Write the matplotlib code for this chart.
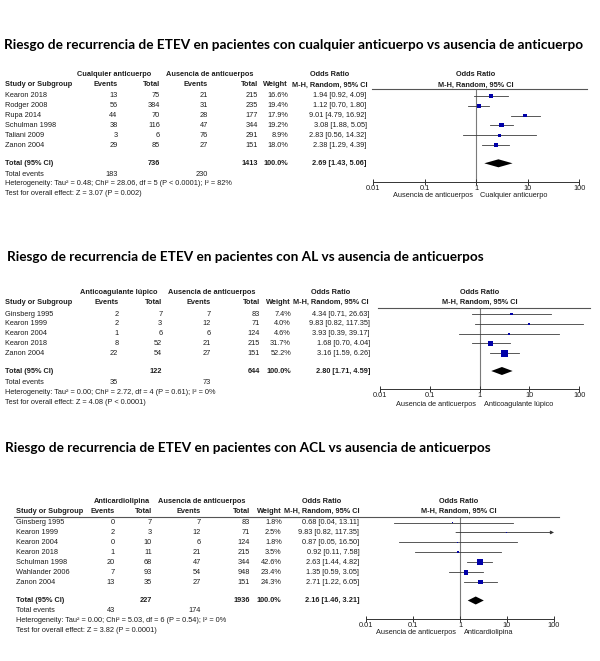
import matplotlib
matplotlib.use('Agg')
import matplotlib.pyplot as plt
from matplotlib.lines import Line2D
from matplotlib.ticker import NullLocator

# ---- panel 1: cualquier anticuerpo
p1_titulo = 'Riesgo de recurrencia de ETEV en pacientes con cualquier anticuerpo vs ausencia de anticuerpo'
p1_grupo = 'Cualquier anticuerpo'
p1_estudios = ['Kearon 2018', 'Rodger 2008', 'Rupa 2014', 'Schulman 1998', 'Taliani 2009', 'Zanon 2004']
p1_ev1 = [13, 56, 44, 38, 3, 29]
p1_tot1 = [75, 384, 70, 116, 6, 85]
p1_ev2 = [21, 31, 28, 47, 76, 27]
p1_tot2 = [215, 235, 177, 344, 291, 151]
p1_peso = [16.6, 19.4, 17.9, 19.2, 8.9, 18.0]
p1_or = [1.94, 1.12, 9.01, 3.08, 2.83, 2.38]
p1_lo = [0.92, 0.70, 4.79, 1.88, 0.56, 1.29]
p1_hi = [4.09, 1.80, 16.92, 5.05, 14.32, 4.39]
p1_total = [736, 1413]
p1_or_total = [2.69, 1.43, 5.06]
p1_eventos = [183, 230]
p1_het = 'Heterogeneity: Tau² = 0.48; Chi² = 28.06, df = 5 (P < 0.0001); I² = 82%'
p1_test = 'Test for overall effect: Z = 3.07 (P = 0.002)'

# ---- panel 2: anticoagulante lupico
p2_titulo = 'Riesgo de recurrencia de ETEV en pacientes con AL vs ausencia de anticuerpos'
p2_grupo = 'Anticoagulante lúpico'
p2_estudios = ['Ginsberg 1995', 'Kearon 1999', 'Kearon 2004', 'Kearon 2018', 'Zanon 2004']
p2_ev1 = [2, 2, 1, 8, 22]
p2_tot1 = [7, 3, 6, 52, 54]
p2_ev2 = [7, 12, 6, 21, 27]
p2_tot2 = [83, 71, 124, 215, 151]
p2_peso = [7.4, 4.0, 4.6, 31.7, 52.2]
p2_or = [4.34, 9.83, 3.93, 1.68, 3.16]
p2_lo = [0.71, 0.82, 0.39, 0.70, 1.59]
p2_hi = [26.63, 117.35, 39.17, 4.04, 6.26]
p2_total = [122, 644]
p2_or_total = [2.80, 1.71, 4.59]
p2_eventos = [35, 73]
p2_het = 'Heterogeneity: Tau² = 0.00; Chi² = 2.72, df = 4 (P = 0.61); I² = 0%'
p2_test = 'Test for overall effect: Z = 4.08 (P < 0.0001)'

# ---- panel 3: anticardiolipina
p3_titulo = 'Riesgo de recurrencia de ETEV en pacientes con ACL vs ausencia de anticuerpos'
p3_grupo = 'Anticardiolipina'
p3_estudios = ['Ginsberg 1995', 'Kearon 1999', 'Kearon 2004', 'Kearon 2018',
               'Schulman 1998', 'Wahlander 2006', 'Zanon 2004']
p3_ev1 = [0, 2, 0, 1, 20, 7, 13]
p3_tot1 = [7, 3, 10, 11, 68, 93, 35]
p3_ev2 = [7, 12, 6, 21, 47, 54, 27]
p3_tot2 = [83, 71, 124, 215, 344, 948, 151]
p3_peso = [1.8, 2.5, 1.8, 3.5, 42.6, 23.4, 24.3]
p3_or = [0.68, 9.83, 0.87, 0.92, 2.63, 1.35, 2.71]
p3_lo = [0.04, 0.82, 0.05, 0.11, 1.44, 0.59, 1.22]
p3_hi = [13.11, 117.35, 16.50, 7.58, 4.82, 3.05, 6.05]
p3_total = [227, 1936]
p3_or_total = [2.16, 1.46, 3.21]
p3_eventos = [43, 174]
p3_het = 'Heterogeneity: Tau² = 0.00; Chi² = 5.03, df = 6 (P = 0.54); I² = 0%'
p3_test = 'Test for overall effect: Z = 3.82 (P = 0.0001)'

control = 'Ausencia de anticuerpos'
ticks = [0.01, 0.1, 1, 10, 100]
tick_labels = ['0.01', '0.1', '1', '10', '100']

W, H = 600, 661
fig = plt.figure(figsize=(6, 6.61), dpi=100)
fig.patch.set_facecolor('white')
FS = 5.3
TXT = '#1e1e1e'


def fx(x):
    return x / W


def fy(y):
    return 1 - y / H


def txt(x, y, s, ha='left', bold=False):
    fig.text(fx(x), fy(y), s, ha=ha, va='center', fontsize=FS, color=TXT,
             fontweight='bold' if bold else 'normal', family='Liberation Sans')


# tamaño del titulo ajustado al ancho del original
t = fig.text(0, 0, p1_titulo, fontsize=10, fontweight='bold', family='Lato')
w = t.get_window_extent(renderer=fig.canvas.get_renderer()).width
t.remove()
TFS = 10 * 580 / w


def panel(titulo, grupo, estudios, ev1, tot1, ev2, tot2, peso, orr, lo, hi,
          total, or_total, eventos, het, test, L, flecha=False):
    fig.text(fx(L['tx']), fy(L['title']), titulo, ha='left', va='center',
             fontsize=TFS, fontweight='bold', family='Lato', color='black')
    c = L['cols']
    # cabeceras
    txt(c['g1'], L['grp'], grupo, 'center', True)
    txt(c['g2'], L['grp'], control, 'center', True)
    txt(c['orh'], L['grp'], 'Odds Ratio', 'center', True)
    txt(L['fh'], L['grp'], 'Odds Ratio', 'center', True)
    txt(c['st'], L['head'], 'Study or Subgroup', 'left', True)
    txt(c['ev1'], L['head'], 'Events', 'right', True)
    txt(c['tot1'], L['head'], 'Total', 'right', True)
    txt(c['ev2'], L['head'], 'Events', 'right', True)
    txt(c['tot2'], L['head'], 'Total', 'right', True)
    txt(c['w'], L['head'], 'Weight', 'right', True)
    txt(c['orh'], L['head'], 'M-H, Random, 95% CI', 'center', True)
    txt(L['fh'], L['head'], 'M-H, Random, 95% CI', 'center', True)
    fig.add_artist(Line2D([fx(L['lx0']), fx(L['lx1'])], [fy(L['line'])] * 2,
                          color='#555555', lw=0.8))
    ys = [L['row0'] + i * L['dy'] for i in range(len(estudios))]
    for i, y in enumerate(ys):
        txt(c['st'], y, estudios[i])
        txt(c['ev1'], y, str(ev1[i]), 'right')
        txt(c['tot1'], y, str(tot1[i]), 'right')
        txt(c['ev2'], y, str(ev2[i]), 'right')
        txt(c['tot2'], y, str(tot2[i]), 'right')
        txt(c['w'], y, '%.1f%%' % peso[i], 'right')
        txt(c['ort'], y, '%.2f [%.2f, %.2f]' % (orr[i], lo[i], hi[i]), 'right')
    yt = L['total']
    txt(c['st'], yt, 'Total (95% CI)', 'left', True)
    txt(c['tot1'], yt, str(total[0]), 'right', True)
    txt(c['tot2'], yt, str(total[1]), 'right', True)
    txt(c['w'], yt, '100.0%', 'right', True)
    txt(c['ort'], yt, '%.2f [%.2f, %.2f]' % tuple(or_total), 'right', True)
    txt(c['st'], L['events'], 'Total events')
    txt(c['ev1'], L['events'], str(eventos[0]), 'right')
    txt(c['ev2'], L['events'], str(eventos[1]), 'right')
    txt(c['st'], L['het'], het)
    txt(c['st'], L['test'], test)

    # forest
    x0, x1 = L['x001'], L['x100']
    ax = fig.add_axes([fx(x0), fy(L['axis']), (x1 - x0) / W, (L['axis'] - L['line']) / H])
    ax.set_xscale('log')
    ax.set_xlim(0.01, 100)
    ax.set_ylim(L['axis'], L['line'])
    ax.patch.set_alpha(0)
    for s in ['top', 'left', 'right']:
        ax.spines[s].set_visible(False)
    ax.spines['bottom'].set_linewidth(0.7)
    ax.spines['bottom'].set_color('#333333')
    ax.set_yticks([])
    ax.set_xticks(ticks)
    ax.set_xticklabels(tick_labels, family='Liberation Sans')
    ax.xaxis.set_minor_locator(NullLocator())
    ax.tick_params(axis='x', direction='inout', length=4, width=0.7, color='#333333',
                   labelsize=FS, labelcolor=TXT, pad=0.2)
    ax.axvline(1, color='#7a7a7a', lw=0.8, zorder=1)
    for i, y in enumerate(ys):
        if hi[i] > 100 and flecha:
            ax.annotate('', xy=(100, y), xytext=(lo[i], y),
                        arrowprops=dict(arrowstyle='-|>', lw=0.6, color='#333333',
                                        mutation_scale=5, shrinkA=0, shrinkB=0))
        else:
            ax.plot([lo[i], hi[i]], [y, y], color='#3c3c3c', lw=0.6, clip_on=False, zorder=2)
    ax.scatter(orr, ys, marker='s', s=[0.45 * p for p in peso], color='#0000a8',
               linewidths=0, zorder=3)
    e, a, b = or_total
    ax.fill([a, e, b, e], [yt, yt - 4, yt, yt + 4], color='black', lw=0, zorder=3)
    xm = (x0 + x1) / 2
    txt(xm - 3.5, L['side'], control, 'right')
    txt(xm + 4, L['side'], grupo, 'left')


L1 = dict(tx=4, title=45, grp=74.5, head=85, line=89, row0=95.7, dy=9.9, total=163.3,
          events=174.3, het=183.5, test=193.3, x001=373.3, x100=579.3, lx0=372, lx1=587,
          axis=181.7, side=195.5, fh=476,
          cols=dict(st=5, ev1=117.5, tot1=160, ev2=208, tot2=258, w=288, ort=366.7,
                    orh=330, g1=114.5, g2=209.5))
L2 = dict(tx=7, title=256.7, grp=292.7, head=302.7, line=307.7, row0=314, dy=9.83,
          total=371, events=382.3, het=392.3, test=402.7, x001=380, x100=579.3,
          lx0=378, lx1=590, axis=389, side=404, fh=480,
          cols=dict(st=5, ev1=118.3, tot1=162.3, ev2=211, tot2=260, w=291, ort=370,
                    orh=331, g1=119, g2=212))
L3 = dict(tx=5, title=448, grp=501.7, head=511.7, line=517.3, row0=522.5, dy=9.95,
          total=600.5, events=611, het=620.5, test=630, x001=366, x100=554,
          lx0=14, lx1=559, axis=619, side=633, fh=459,
          cols=dict(st=16, ev1=115, tot1=151.7, ev2=201, tot2=250, w=281.7, ort=359.3,
                    orh=322, g1=122, g2=202))

panel(p1_titulo, p1_grupo, p1_estudios, p1_ev1, p1_tot1, p1_ev2, p1_tot2, p1_peso,
      p1_or, p1_lo, p1_hi, p1_total, p1_or_total, p1_eventos, p1_het, p1_test, L1)
panel(p2_titulo, p2_grupo, p2_estudios, p2_ev1, p2_tot1, p2_ev2, p2_tot2, p2_peso,
      p2_or, p2_lo, p2_hi, p2_total, p2_or_total, p2_eventos, p2_het, p2_test, L2)
panel(p3_titulo, p3_grupo, p3_estudios, p3_ev1, p3_tot1, p3_ev2, p3_tot2, p3_peso,
      p3_or, p3_lo, p3_hi, p3_total, p3_or_total, p3_eventos, p3_het, p3_test, L3,
      flecha=True)

fig.savefig('out.png', dpi=100, facecolor='white')
